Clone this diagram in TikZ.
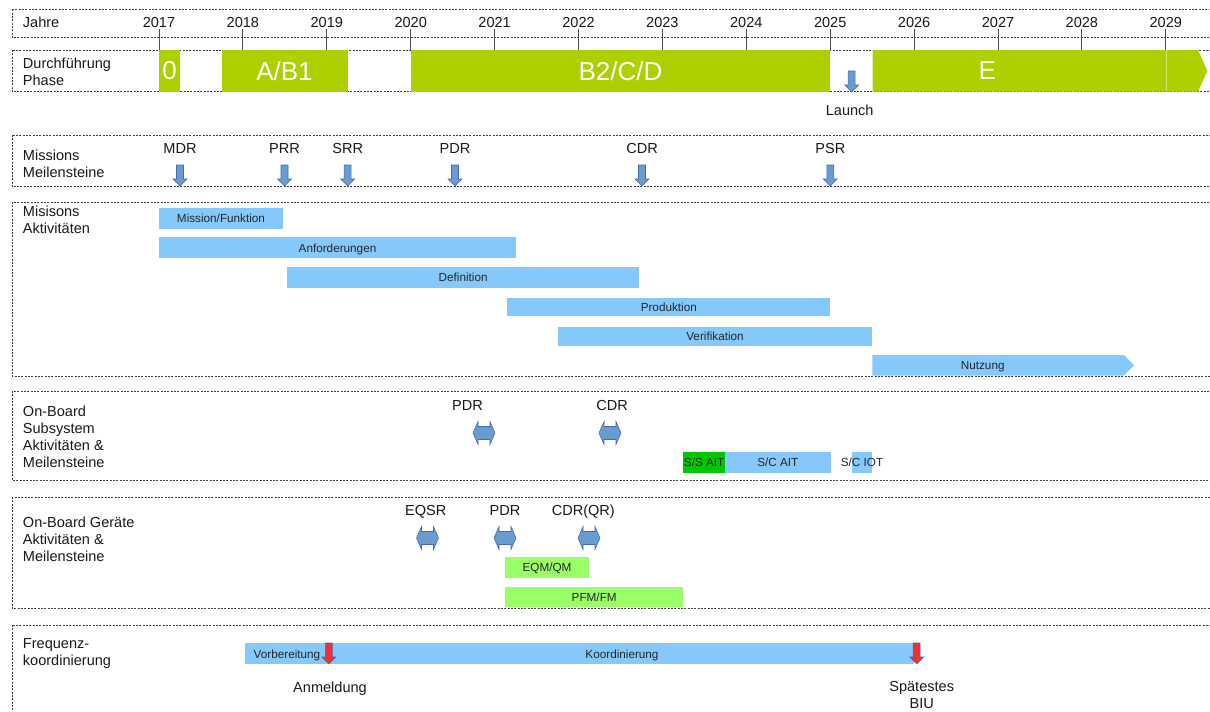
\documentclass[tikz,border=0pt]{standalone}
\usepackage{fontspec}
\setmainfont{Liberation Sans}

\definecolor{phasegreen}{RGB}{175,207,0}
\definecolor{barblue}{RGB}{133,200,252}
\definecolor{aitgreen}{RGB}{0,200,0}
\definecolor{eqmgreen}{RGB}{153,255,102}
\definecolor{arrowfill}{RGB}{106,155,208}
\definecolor{arrowline}{RGB}{68,108,170}
\definecolor{redfill}{RGB}{240,48,48}

\tikzset{
    rowbox/.style={draw=black!75, line width=0.6pt, dash pattern=on 1.5pt off 1pt},
    rowlabel/.style={anchor=west, inner sep=0pt, align=left, text=black!90,
        font=\fontsize{10.9}{12.75}\selectfont},
    mslabel/.style={inner sep=0pt, text=black!90, text height=7.8pt, text depth=0pt,
        font=\fontsize{10.9}{12.75}\selectfont},
    notelabel/.style={inner sep=0pt, align=center, text=black!90,
        font=\fontsize{10.9}{12.75}\selectfont},
    bartext/.style={inner sep=0pt, text=black!85, text height=6.3pt, text depth=0pt,
        font=\fontsize{8.8}{10}\selectfont},
    phasetext/.style={inner sep=0pt, text=white, font=\fontsize{19.5}{22}\selectfont},
    yeartick/.style={draw=black!70, line width=0.75pt},
    dnarrow/.style={fill=arrowfill, draw=arrowline, line width=0.4pt},
    redarrow/.style={fill=redfill, draw=arrowline, line width=0.4pt},
}

\begin{document}
\begin{tikzpicture}[x=0.75pt, y=-0.75pt]
    \useasboundingbox (0,0) rectangle (1210,711);
    \clip (0,0) rectangle (1210,711);

    % Rows
    \foreach \ya/\yb in {9.3/37.3, 50/91.7, 135/186.7, 202/376, 391/480, 497/608, 625/730} {
        \draw[rowbox] (12,\ya) rectangle (1220,\yb);
    }

    % Years
    \node[rowlabel] (jahre) at (22.7,22) {Jahre};
    \foreach \yr [count=\i from 0] in {2017,...,2029} {
        \pgfmathsetmacro{\xt}{159+83.9*\i}
        \draw[yeartick] (\xt,29) -- (\xt,50);
        \node[mslabel] (y\yr) at (\xt,22) {\yr};
    }

    % Phases
    \node[rowlabel] (phase) at (22.7,71.5) {Durchführung\\Phase};
    \foreach \xa/\xb/\xm/\nm/\txt in {159/180/169.5/ph0/0, 222/347.7/284.5/phab/{A/B1}, 411/830.3/620.5/phbcd/{B2/C/D}} {
        \fill[phasegreen] (\xa,50) rectangle (\xb,91.7);
        \node[phasetext] (\nm) at (\xm,71) {\txt};
    }
    \fill[phasegreen] (872.7,50) -- (1198,50) -- (1207.3,70.8) -- (1198,91.7) -- (872.7,91.7) -- cycle;
    \draw[phasegreen!55!white, line width=0.5pt] (1166,50) -- (1166,91.7);
    \node[phasetext] (phe) at (987.3,71) {E};
    \filldraw[dnarrow] (848.2,71) -- ++(7,0) -- ++(0,14) -- ++(3.5,0) -- ++(-7,7) -- ++(-7,-7) -- ++(3.5,0) -- cycle;
    \node[mslabel] (launch) at (849.7,110) {Launch};

    % Mission milestones
    \node[rowlabel] (meil) at (22.7,163.5) {Missions\\Meilensteine};
    \foreach \x/\nm in {180/MDR, 284.5/PRR, 347.7/SRR, 455/PDR, 642/CDR, 830.3/PSR} {
        \node[mslabel] (m\nm) at (\x,148) {\nm};
        \filldraw[dnarrow] (\x-3.5,165) -- ++(7,0) -- ++(0,14) -- ++(3.5,0) -- ++(-7,7) -- ++(-7,-7) -- ++(3.5,0) -- cycle;
    }

    % Mission activities
    \node[rowlabel] (akt) at (22.7,220) {Misisons\\Aktivitäten};
    \foreach \xa/\xb/\ya/\yb/\nm/\txt in {159/283/208.3/229/mifu/{Mission/Funktion},
            159/516/237.3/258.3/anfo/Anforderungen, 287/639.3/267.3/288/defi/Definition,
            507.3/830.3/298.3/315.7/prod/Produktion, 557.7/872.3/327/345.7/veri/Verifikation} {
        \fill[barblue] (\xa,\ya) rectangle (\xb,\yb);
        \node[bartext] (\nm) at ({(\xa+\xb)/2},{(\ya+\yb)/2}) {\txt};
    }
    \fill[barblue] (872.3,355) -- (1124,355) -- (1134,365.3) -- (1124,375.5) -- (872.3,375.5) -- cycle;
    \node[bartext] (nutz) at (982.7,365.3) {Nutzung};

    % On-Board subsystem
    \node[rowlabel] (subsys) at (22.7,436.5) {On-Board\\Subsystem\\Aktivitäten \&\\Meilensteine};
    \foreach \x/\xl/\nm in {484/467.5/PDR, 610/612/CDR} {
        \node[mslabel] (s\nm) at (\xl,405) {\nm};
        \filldraw[dnarrow] (\x-11,433) -- ++(5,-11.5) -- ++(0,5) -- ++(12,0) -- ++(0,-5) -- ++(5,11.5)
            -- ++(-5,11.5) -- ++(0,-5) -- ++(-12,0) -- ++(0,5) -- cycle;
    }
    \fill[aitgreen] (683.3,452.3) rectangle (725,472.7);
    \node[bartext] (ssait) at (704.2,462.5) {S/S AIT};
    \fill[barblue] (725,452.3) rectangle (830.7,472.7);
    \node[bartext] (scait) at (777.8,462.5) {S/C AIT};
    \fill[barblue] (851.7,452.3) rectangle (872.3,472.7);
    \node[bartext] (sciot) at (862,462.5) {S/C IOT};

    % On-Board devices
    \node[rowlabel] (geraete) at (22.7,539) {On-Board Geräte\\Aktivitäten \&\\Meilensteine};
    \foreach \x/\xl/\nm/\txt in {427.5/425.8/eqsr/EQSR, 505/505/pdr/PDR, 589/583.3/cdr/CDR(QR)} {
        \node[mslabel] (g\nm) at (\xl,510) {\txt};
        \filldraw[dnarrow] (\x-11,538) -- ++(5,-11.5) -- ++(0,5) -- ++(12,0) -- ++(0,-5) -- ++(5,11.5)
            -- ++(-5,11.5) -- ++(0,-5) -- ++(-12,0) -- ++(0,5) -- cycle;
    }
    \fill[eqmgreen] (505,557.3) rectangle (589,578);
    \node[bartext] (eqm) at (547,567.7) {EQM/QM};
    \fill[eqmgreen] (505,586.7) rectangle (683.3,607.3);
    \node[bartext] (pfm) at (594.2,597) {PFM/FM};

    % Frequency coordination
    \node[rowlabel] (freq) at (22.7,653.5) {Frequenz-\\koordinierung};
    \fill[barblue] (245,643.3) rectangle (914,664.3);
    \node[bartext] (vorb) at (287,654) {Vorbereitung};
    \node[bartext] (koord) at (622,654) {Koordinierung};
    \foreach \x in {328.8, 916.7} {
        \filldraw[redarrow] (\x-3.5,643) -- ++(7,0) -- ++(0,14) -- ++(3.5,0) -- ++(-7,7) -- ++(-7,-7) -- ++(3.5,0) -- cycle;
    }
    \node[mslabel] (anmeld) at (330,687) {Anmeldung};
    \node[notelabel] (biu) at (921.7,695) {Spätestes\\BIU};
\end{tikzpicture}
\end{document}
